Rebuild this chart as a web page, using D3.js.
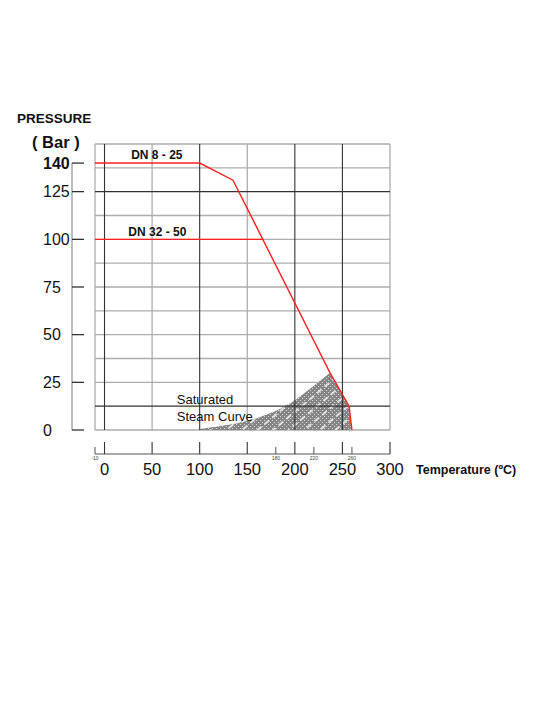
<!DOCTYPE html>
<html>
<head>
<meta charset="utf-8">
<script src="https://cdn.jsdelivr.net/npm/d3@7"></script>
<style>
body{margin:0;background:#fff;}
text{font-family:"Liberation Sans",Arial,sans-serif;fill:#111;}
</style>
</head>
<body>
<svg width="540" height="720"></svg>
<script>
const svg=d3.select('svg');

// data
const tempDomain=[-10,300];
const pressDomain=[0,150];
const xMajorTicks=[0,50,100,150,200,250,300];
const xMinorTicks=[-10,180,220,260];
const yTicks=[0,25,50,75,100,125,140];
const xGridLight=[-10,50,150,300];
const xGridDark=[0,100,200,250];
const yGridLight=[0,25,37.5,50,62.5,75,87.5,100,112.5,137.5,150];
const yGridDark=[12.5,125];
const dn825=[[-10,140],[100,140],[135,131],[237,30],[257,12.5],[260,0]];
const dn3250=[[-10,100],[167,100]];
const steamCurve=[[100,0],[100,0.5],[120,2],[140,3.6],[160,6.2],[180,10],[200,15.5],[220,23.2],[237,30]];
const steamEdge=[[257,12.5],[260,0]];

const x=d3.scaleLinear().domain(tempDomain).range([95,390]);
const y=d3.scaleLinear().domain(pressDomain).range([430,144]);

/****** grid ******/
const grid=svg.append('g');
grid.selectAll('.hl').data(yGridLight).enter().append('line')
  .attr('x1',x(-10)).attr('x2',x(300))
  .attr('y1',d=>y(d)).attr('y2',d=>y(d))
  .attr('stroke','#adadad').attr('stroke-width',1.3);
grid.selectAll('.vl').data(xGridLight).enter().append('line')
  .attr('y1',y(0)).attr('y2',y(150))
  .attr('x1',d=>x(d)).attr('x2',d=>x(d))
  .attr('stroke','#adadad').attr('stroke-width',1.3);

/****** steam curve area ******/
const defs=svg.append('defs');
const pat=defs.append('pattern').attr('id','steam')
  .attr('patternUnits','userSpaceOnUse').attr('width',4).attr('height',4);
pat.append('rect').attr('width',4).attr('height',4).attr('fill','#858585');
pat.append('rect').attr('width',1).attr('height',1).attr('x',0).attr('y',0).attr('fill','#d8d8d8');
pat.append('rect').attr('width',1).attr('height',1).attr('x',2).attr('y',2).attr('fill','#d8d8d8');
const pat2=defs.append('pattern').attr('id','streaks')
  .attr('patternUnits','userSpaceOnUse').attr('width',10).attr('height',10)
  .attr('patternTransform','rotate(-40)');
pat2.append('line').attr('x1',0).attr('x2',10).attr('y1',5).attr('y2',5)
  .attr('stroke','#fff').attr('stroke-width',1.8).attr('stroke-dasharray','6 4');

const areaPts=steamCurve.concat(steamEdge);
const line=d3.line().x(d=>x(d[0])).y(d=>y(d[1]));
svg.append('path').attr('d',line(areaPts)+'Z').attr('fill','url(#steam)');
svg.append('path').attr('d',line(areaPts)+'Z').attr('fill','url(#streaks)').attr('opacity',0.8);

/****** dark grid on top ******/
const gdark=svg.append('g');
gdark.selectAll('line.h').data(yGridDark).enter().append('line')
  .attr('x1',x(-10)).attr('x2',x(300))
  .attr('y1',d=>y(d)).attr('y2',d=>y(d))
  .attr('stroke','#333').attr('stroke-width',1.1);
gdark.selectAll('line.v').data(xGridDark).enter().append('line')
  .attr('y1',y(0)).attr('y2',y(150))
  .attr('x1',d=>x(d)).attr('x2',d=>x(d))
  .attr('stroke','#333').attr('stroke-width',1.1);

/****** red limits ******/
svg.append('path').attr('d',line(dn825)).attr('fill','none').attr('stroke','#ff2020').attr('stroke-width',1.4);
svg.append('path').attr('d',line(dn3250)).attr('fill','none').attr('stroke','#ff2020').attr('stroke-width',1.4);
svg.append('text').attr('x',x(28)).attr('y',y(140)-4).text('DN 8 - 25')
  .style('font-size','12px').style('font-weight','bold');
svg.append('text').attr('x',x(25)).attr('y',y(100)-3).text('DN 32 - 50')
  .style('font-size','12px').style('font-weight','bold');
svg.append('text').attr('x',x(76)).attr('y',y(13.6)).text('Saturated').style('font-size','13px');
svg.append('text').attr('x',x(76)).attr('y',y(4.7)).text('Steam Curve').style('font-size','13px');

/****** y axis ******/
const ya=svg.append('g');
ya.append('line').attr('x1',72).attr('x2',72).attr('y1',y(140)).attr('y2',y(0))
  .attr('stroke','#999').attr('stroke-width',1.3);
ya.selectAll('line.t').data(yTicks).enter().append('line')
  .attr('x1',72).attr('x2',84).attr('y1',d=>y(d)).attr('y2',d=>y(d))
  .attr('stroke','#222').attr('stroke-width',1.2);
ya.selectAll('text').data(yTicks).enter().append('text')
  .attr('x',43).attr('y',d=>y(d)).attr('dy','0.36em')
  .text(d=>d)
  .style('font-size','16px')
  .style('font-weight',d=>d===140?'bold':'normal');
svg.append('text').attr('x',17).attr('y',123).text('PRESSURE')
  .style('font-size','13.5px').style('font-weight','bold');
svg.append('text').attr('x',32).attr('y',148).text('( Bar )')
  .style('font-size','16.5px').style('font-weight','bold');

/****** x axis ******/
const xa=svg.append('g');
xa.append('line').attr('x1',x(-10)).attr('x2',x(300)).attr('y1',454).attr('y2',454)
  .attr('stroke','#555').attr('stroke-width',1.1);
xa.selectAll('line.M').data(xMajorTicks).enter().append('line')
  .attr('x1',d=>x(d)).attr('x2',d=>x(d)).attr('y1',442).attr('y2',454)
  .attr('stroke','#333').attr('stroke-width',1.1);
xa.selectAll('line.m').data(xMinorTicks).enter().append('line')
  .attr('x1',d=>x(d)).attr('x2',d=>x(d)).attr('y1',447).attr('y2',454)
  .attr('stroke','#555').attr('stroke-width',1);
xa.selectAll('text.M').data(xMajorTicks).enter().append('text')
  .attr('x',d=>x(d)).attr('y',475).attr('text-anchor','middle')
  .text(d=>d).style('font-size','16.5px');
xa.selectAll('text.m').data(xMinorTicks).enter().append('text')
  .attr('x',d=>x(d)).attr('y',459.5).attr('text-anchor','middle')
  .text(d=>d).style('font-size','5px').style('fill','#444');
svg.append('text').attr('x',416).attr('y',474).text('Temperature (ºC)')
  .style('font-size','12.5px').style('font-weight','bold');
</script>
</body>
</html>
